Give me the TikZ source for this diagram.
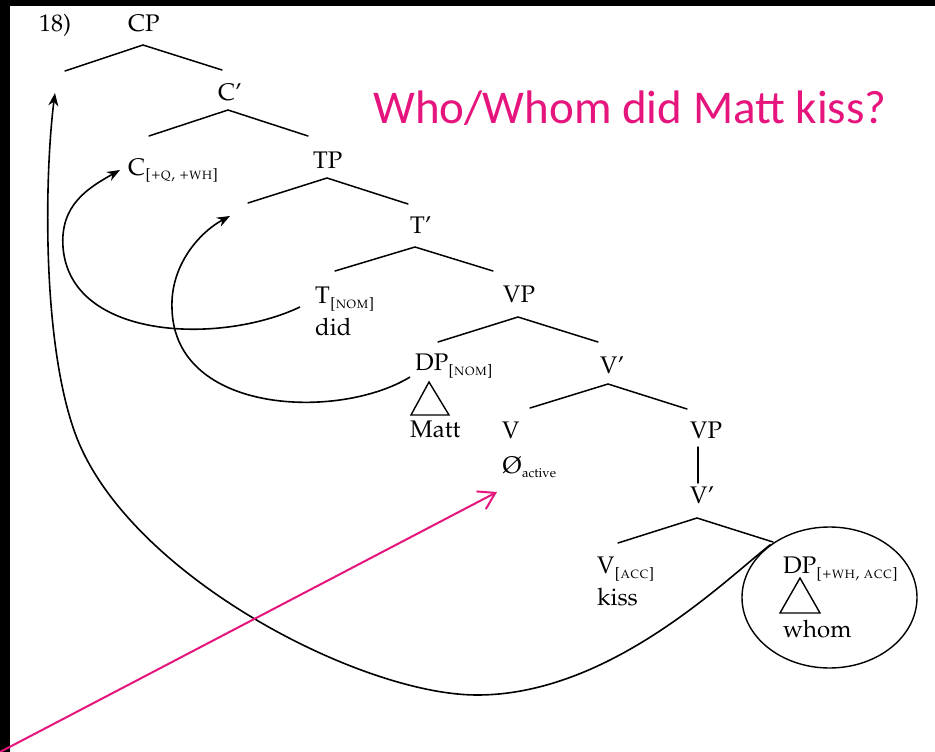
\documentclass[tikz,border=0pt]{standalone}
\usepackage[T1]{fontenc}
\usepackage{fontspec}
\usetikzlibrary{arrows.meta,shapes.geometric}
\newfontfamily\calib{Carlito}
\newcommand\palf[1]{\fontencoding{T1}\fontfamily{ppl}\fontsize{#1}{#1}\selectfont}
\newcommand\subsc[1]{\raisebox{-5pt}{\palf{15}\scshape #1}}
\newcommand\sublc[1]{\raisebox{-4pt}{\palf{13}#1}}
\definecolor{qpink}{RGB}{230,20,125}
\tikzset{
  lbl/.style={anchor=base west, inner sep=0pt, font=\palf{24}},
  br/.style={line width=1.5pt, line cap=round},
  mv/.style={line width=1.6pt, -{Stealth[length=13pt,width=10pt]}},
  tri/.style={line width=1.4pt, line join=miter},
  pinkarrow/.style={qpink, line width=2pt, -{Straight Barb[length=16pt,width=20pt]}},
}
\begin{document}
\begin{tikzpicture}[x=1pt,y=-1pt]
\useasboundingbox (0,0) rectangle (935,752);
\fill[white] (0,0) rectangle (935,752);
\fill[black] (0,0) rectangle (935,6);
\fill[black] (0,0) rectangle (10,752);

% labels
\node[lbl] (num) at (39,32) {18)};
\node[lbl] (cp) at (128,32) {CP};
\node[lbl] (cbar) at (218,100) {C'};
\node[lbl] (c) at (128,175) {C\subsc{[+q, +wh]}};
\node[lbl] (tp) at (313,168) {TP};
\node[lbl] (tbar) at (410,233) {T'};
\node[lbl] (t) at (315,303) {T\subsc{[nom]}};
\node[lbl] (did) at (315,335) {did};
\node[lbl] (vp) at (503,302) {VP};
\node[lbl] (dp) at (415,370) {DP\subsc{[nom]}};
\node[lbl] (matt) at (410,437) {Matt};
\node[lbl] (vbar) at (600,373) {V'};
\node[lbl] (v) at (502,438) {V};
\node[lbl] (null) at (502,473) {\O\sublc{active}};
\node[lbl] (vp2) at (690,438) {VP};
\node[lbl] (vbar2) at (690,503) {V'};
\node[lbl] (vacc) at (597,573) {V\subsc{[acc]}};
\node[lbl] (kiss) at (597,605) {kiss};
\node[lbl] (dpwh) at (783,573) {DP\subsc{[+wh, acc]}};
\node[lbl] (whom) at (783,637) {whom};
\node[draw, ellipse, line width=1.4pt, minimum width=175pt, minimum height=141pt, inner sep=0pt] (wh) at (829.5,597.5) {};

\node[anchor=base, inner sep=0pt, text=qpink, font=\calib\fontsize{47}{50}\selectfont] (q) at (630,123) {Who/Whom did Matt kiss?};

% branch points
\coordinate (cpA) at (143,45);  \coordinate (cpL) at (65,71);   \coordinate (cpR) at (222,70);
\coordinate (cbA) at (228,110); \coordinate (cbL) at (149,136); \coordinate (cbR) at (308,136);
\coordinate (tpA) at (327,178); \coordinate (tpL) at (248,203); \coordinate (tpR) at (408,204);
\coordinate (tbA) at (415,247); \coordinate (tbL) at (335,271); \coordinate (tbR) at (493,271);
\coordinate (vpA) at (518,317); \coordinate (vpL) at (438,342); \coordinate (vpR) at (598,342);
\coordinate (vbA) at (608,384); \coordinate (vbL) at (530,408); \coordinate (vbR) at (687,409);
\coordinate (vp2T) at (698,447); \coordinate (vp2B) at (698,483);
\coordinate (v2A) at (697,518); \coordinate (v2L) at (618,543); \coordinate (v2R) at (773,542);

\draw[br] (cpL) -- (cpA) -- (cpR);
\draw[br] (cbL) -- (cbA) -- (cbR);
\draw[br] (tpL) -- (tpA) -- (tpR);
\draw[br] (tbL) -- (tbA) -- (tbR);
\draw[br] (vpL) -- (vpA) -- (vpR);
\draw[br] (vbL) -- (vbA) -- (vbR);
\draw[br] (vp2T) -- (vp2B);
\draw[br] (v2L) -- (v2A) -- (v2R);

% triangles
\draw[tri] (429,382) -- (411,415) -- (449,415) -- cycle;
\draw[tri] (800,578) -- (780,613) -- (820,613) -- cycle;

% movement arrows
\coordinate (m1s) at (300,307); \coordinate (m1l) at (63,247); \coordinate (m1t) at (120,170);
\draw[mv] (m1s) .. controls (220,345) and (70,340) .. (m1l)
                .. controls (60,205) and (88,188) .. (m1t);
\coordinate (m2s) at (410,377); \coordinate (m2l) at (172,309); \coordinate (m2t) at (230,216);
\draw[mv] (m2s) .. controls (340,420) and (175,415) .. (m2l)
                .. controls (170,265) and (200,232) .. (m2t);
\coordinate (m3b) at (477,695); \coordinate (m3m) at (75,433); \coordinate (m3t) at (55,93);
\draw[mv] (wh.138) .. controls (725,580) and (610,695) .. (m3b)
                   .. controls (360,695) and (126,574) .. (m3m)
                   .. controls (41,339) and (45,170) .. (m3t);

% pink pointer
\coordinate (pstart) at (0,752); \coordinate (ptip) at (497,492);
\draw[pinkarrow] (pstart) -- (ptip);
\end{tikzpicture}
\end{document}
